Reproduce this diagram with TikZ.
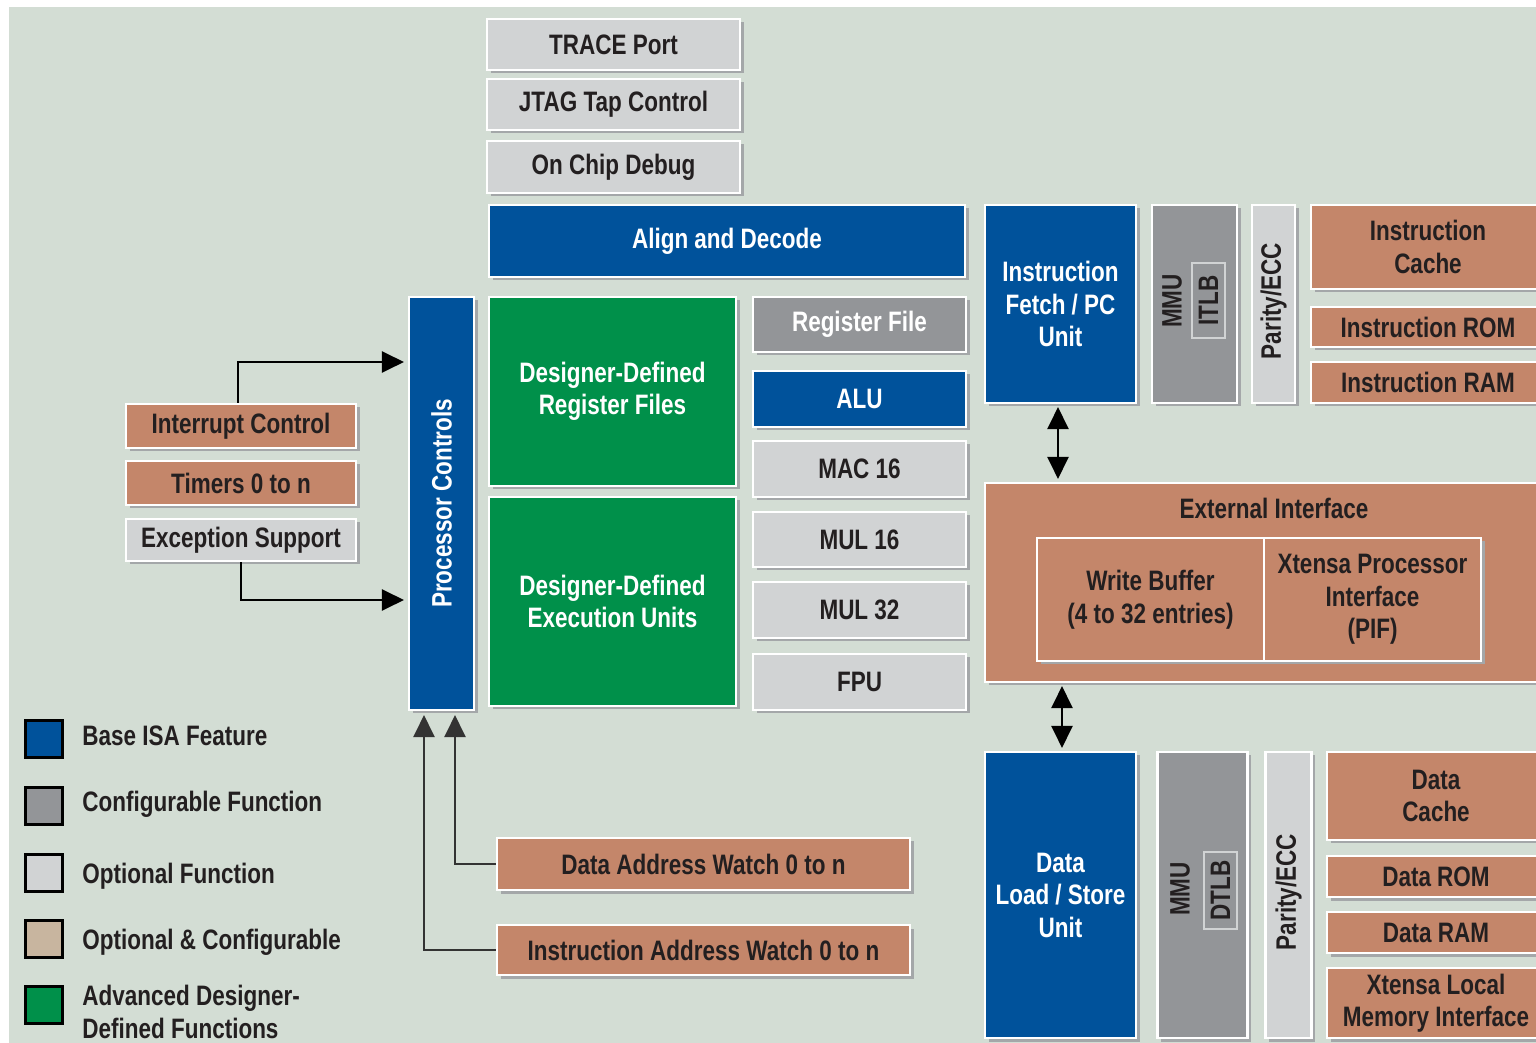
\documentclass[tikz,border=0pt]{standalone}
\usepackage{fontspec}
\setmainfont{Liberation Sans}[FakeStretch=0.8]
\usetikzlibrary{arrows.meta,shadows}

\definecolor{bgc}{HTML}{D3DDD4}
\definecolor{basec}{HTML}{00529B}
\definecolor{greenc}{HTML}{00904A}
\definecolor{cfgc}{HTML}{939598}
\definecolor{optc}{HTML}{D1D3D4}
\definecolor{copperc}{HTML}{C4866A}
\definecolor{tanc}{HTML}{C8B59F}
\definecolor{shadowc}{HTML}{A4A7A9}
\definecolor{txtc}{HTML}{231F20}

\begin{document}
\begin{tikzpicture}[
    x=0.02cm, y=-0.02cm,
    >={Triangle[length=0.44cm,width=0.42cm]},
    sz/.style 2 args={minimum width=#1*0.02cm, minimum height=#2*0.02cm},
    blk/.style={
      draw=white, line width=1.2pt, inner sep=0pt, align=center,
      font=\fontsize{16}{18.5}\selectfont\bfseries,
      general shadow={fill=shadowc, shadow xshift=0.07cm, shadow yshift=-0.07cm}
    },
    base/.style={blk, fill=basec, text=white},
    cfg/.style={blk, fill=cfgc, text=txtc},
    opt/.style={blk, fill=optc, text=txtc},
    ocf/.style={blk, fill=copperc, text=txtc},
    adv/.style={blk, fill=greenc, text=white},
    lbl/.style={inner sep=0pt, align=center, text=txtc,
      font=\fontsize{16}{18.5}\selectfont\bfseries},
    vlbl/.style={lbl, rotate=90},
    tlb/.style={lbl, draw=optc, line width=0.8pt, fill=cfgc, rotate=90},
    key/.style={draw=black, line width=2pt, minimum size=0.74cm, inner sep=0pt},
    arr/.style={->, line width=1.3pt, shorten >=0.08cm},
    darr/.style={<->, line width=1.3pt, shorten <=0.06cm, shorten >=0.06cm},
  ]
  \useasboundingbox (0,0) rectangle (1536,1043);
  \fill[bgc] (9,7) rectangle (1536,1043);

  % debug blocks
  \node[opt, sz={253}{51}] (trace) at (613.5,44.5) {TRACE Port};
  \node[opt, sz={253}{51}] (jtag) at (613.5,104.5) {JTAG Tap Control};
  \node[opt, sz={253}{52}] (ocd) at (613.5,167) {On Chip Debug};

  % core
  \node[base, sz={476}{72}] (align) at (727,241) {Align and Decode};
  \node[base, sz={65}{413}] (pctl) at (441.5,503.5) {};
  \node[lbl, text=white, rotate=90] (pctltxt) at (441.5,503.5) {Processor Controls};
  \node[adv, sz={247}{189}] (ddrf) at (612.5,391.5) {Designer-Defined\\Register Files};
  \node[adv, sz={247}{209}] (ddeu) at (612.5,601.5) {Designer-Defined\\Execution Units};
  \node[cfg, text=white, sz={213}{55}] (regfile) at (859.5,324.5) {Register File};
  \node[base, sz={213}{56}] (alu) at (859.5,399) {ALU};
  \node[opt, sz={213}{56}] (mac) at (859.5,469) {MAC 16};
  \node[opt, sz={213}{55}] (mul16) at (859.5,539.5) {MUL 16};
  \node[opt, sz={213}{56}] (mul32) at (859.5,610) {MUL 32};
  \node[opt, sz={213}{56}] (fpu) at (859.5,682) {FPU};

  % instruction side
  \node[base, sz={151}{198}] (ifetch) at (1060.5,304) {Instruction\\Fetch / PC\\Unit};
  \node[cfg, sz={85}{198}] (immu) at (1194.5,304) {};
  \node[vlbl] (immutxt) at (1172,301) {MMU};
  \node[tlb, sz={75}{33}] (itlb) at (1208.5,300.5) {ITLB};
  \node[opt, sz={43}{198}] (ipar) at (1273.5,304) {};
  \node[vlbl] (ipartxt) at (1273.5,301) {Parity/ECC};
  \node[ocf, sz={234}{84}] (icache) at (1428,247) {Instruction\\Cache};
  \node[ocf, sz={234}{40}] (irom) at (1428,327) {Instruction ROM};
  \node[ocf, sz={234}{41}] (iram) at (1428,382.5) {Instruction RAM};

  % external interface
  \node[ocf, sz={560}{199}] (ext) at (1265,582.5) {};
  \node[lbl] (exttxt) at (1274,508) {External Interface};
  \node[ocf, sz={227}{123}] (wbuf) at (1150.5,599.5) {Write Buffer\\(4 to 32 entries)};
  \node[ocf, sz={217}{123}] (pif) at (1372.5,599.5) {Xtensa Processor\\Interface\\(PIF)};

  % data side
  \node[base, sz={151}{286}] (dls) at (1060.5,895) {Data\\Load / Store\\Unit};
  \node[cfg, sz={90}{286}] (dmmu) at (1202.5,895) {};
  \node[vlbl] (dmmutxt) at (1180,889) {MMU};
  \node[tlb, sz={77}{33}] (dtlb) at (1220.5,890.5) {DTLB};
  \node[opt, sz={46}{286}] (dpar) at (1288.5,895) {};
  \node[vlbl] (dpartxt) at (1288.5,892) {Parity/ECC};
  \node[ocf, sz={218}{88}] (dcache) at (1436,796) {Data\\Cache};
  \node[ocf, sz={218}{41}] (drom) at (1436,876.5) {Data ROM};
  \node[ocf, sz={218}{41}] (dram) at (1436,932.5) {Data RAM};
  \node[ocf, sz={218}{70}] (dlmi) at (1436,1003) {Xtensa Local\\Memory Interface};

  % left side
  \node[ocf, sz={230}{44}] (intc) at (241,426) {Interrupt Control};
  \node[ocf, sz={230}{44}] (timers) at (241,483) {Timers 0 to n};
  \node[opt, sz={230}{42}] (exc) at (241,540) {Exception Support};

  % watch blocks
  \node[ocf, sz={413}{52}] (daw) at (703.5,864) {Data Address Watch 0 to n};
  \node[ocf, sz={413}{50}] (iaw) at (703.5,950) {Instruction Address Watch 0 to n};

  % arrows
  \draw[arr] (intc.north -| 238,0) |- (pctl.west |- 0,362);
  \draw[arr] (exc.south) |- (pctl.west |- 0,600);
  \draw[arr, black!80] (daw.west) -| (pctl.south -| 455,0);
  \draw[arr, black!80] (iaw.west) -| (pctl.south -| 424,0);
  \draw[darr] (ifetch.south -| 1058,0) -- (ext.north -| 1058,0);
  \draw[darr] (ext.south -| 1062,0) -- (dls.north -| 1062,0);

  % legend
  \node[key, fill=basec] (k1) at (44,739) {};
  \node[key, fill=cfgc] (k2) at (44,806) {};
  \node[key, fill=optc] (k3) at (44,873) {};
  \node[key, fill=tanc] (k4) at (44,939) {};
  \node[key, fill=greenc] (k5) at (44,1005) {};
  \node[lbl, anchor=west] (l1) at (82,736) {Base ISA Feature};
  \node[lbl, anchor=west] (l2) at (82,804) {Configurable Function};
  \node[lbl, anchor=west] (l3) at (82,876) {Optional Function};
  \node[lbl, anchor=west] (l4) at (82,942) {Optional \& Configurable};
  \node[lbl, anchor=west, align=left] (l5) at (82,1012) {Advanced Designer-\\Defined Functions};
\end{tikzpicture}
\end{document}
